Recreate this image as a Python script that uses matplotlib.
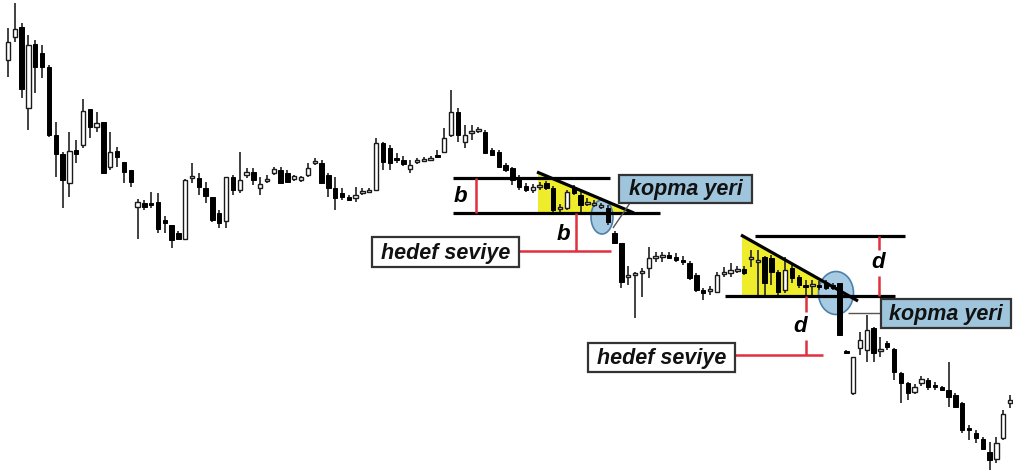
import matplotlib
matplotlib.use("Agg")
import matplotlib.pyplot as plt
import matplotlib.transforms as mtransforms
from matplotlib.patches import Rectangle, Ellipse, Polygon
import numpy as np

plt.rcParams['font.family'] = ['Liberation Sans', 'DejaVu Sans']

# fiyat seviyeleri (ekran satiri olarak, eksen ters cevrili): acilis, en yuksek, en dusuk, kapanis
opens = [60, 37, 27, 108, 44, 53, 67, 135, 154, 183, 150, 145, 109, 127, 122, 167, 151, 162, 170, 207,
         203, 203, 202, 220, 225, 233, 239, 177, 178, 188, 197, 213, 221, 177, 190, 175, 172, 188, 180, 173,
         170, 173, 179, 180, 175, 162, 163, 175, 188, 193, 197, 198, 192, 191, 190, 143, 148, 158, 160, 169,
         161, 160, 159, 155, 152, 135, 112, 142, 132, 130, 132, 150, 152, 165, 168, 178, 186, 190, 186, 183,
         188, 208, 208, 187, 195, 203, 204, 206, 208, 233, 243, 277, 275, 273, 268, 257, 256, 255, 257, 260,
         263, 275, 290, 290, 292, 273, 273, 270, 269, 258, 262, 257, 258, 272, 290, 268, 277, 285, 285, 285,
         283, 285, 283, 351, 393, 348, 350, 328, 350, 343, 349, 373, 383, 392, 383, 380, 385, 387, 390, 395,
         403, 428, 433, 439, 452, 459, 438, 403]
highs = [28, 3, 23, 35, 40, 45, 65, 122, 152, 132, 140, 99, 109, 112, 122, 132, 147, 162, 170, 199,
         200, 192, 193, 216, 225, 231, 179, 163, 173, 182, 197, 210, 177, 175, 152, 168, 168, 177, 175, 167,
         167, 170, 175, 176, 163, 158, 160, 173, 177, 188, 195, 187, 188, 188, 138, 142, 145, 153, 156, 160,
         158, 157, 156, 150, 128, 90, 108, 125, 125, 127, 130, 148, 150, 163, 167, 175, 183, 184, 182, 181,
         186, 204, 190, 185, 192, 198, 200, 203, 205, 231, 243, 266, 272, 268, 247, 252, 252, 252, 253, 256,
         261, 273, 288, 286, 272, 267, 263, 266, 266, 250, 250, 256, 255, 270, 257, 265, 275, 280, 280, 281,
         280, 283, 283, 350, 357, 332, 315, 327, 337, 341, 348, 372, 382, 384, 376, 378, 382, 386, 362, 393,
         402, 425, 430, 437, 442, 437, 410, 395]
lows = [77, 42, 98, 130, 93, 78, 137, 177, 208, 197, 163, 148, 138, 132, 174, 170, 167, 183, 187, 239,
        210, 208, 233, 233, 248, 240, 240, 183, 195, 203, 222, 228, 228, 195, 193, 178, 185, 195, 183, 175,
        183, 183, 181, 182, 177, 165, 183, 197, 210, 200, 201, 202, 195, 193, 190, 170, 170, 163, 166, 173,
        164, 162, 161, 158, 153, 137, 142, 148, 140, 133, 153, 156, 168, 172, 185, 190, 192, 193, 190, 190,
        212, 212, 210, 195, 212, 206, 207, 209, 225, 243, 288, 285, 318, 297, 278, 262, 262, 259, 262, 265,
        280, 292, 300, 295, 293, 277, 277, 273, 275, 267, 295, 295, 285, 295, 293, 283, 288, 295, 295, 290,
        290, 290, 335, 353, 395, 355, 362, 362, 357, 350, 380, 403, 400, 394, 386, 390, 390, 391, 407, 408,
        433, 440, 443, 450, 470, 463, 440, 408]
closes = [42, 29, 89, 45, 67, 67, 135, 154, 180, 151, 154, 111, 127, 123, 173, 152, 157, 172, 182, 202,
          207, 204, 229, 223, 240, 239, 180, 176, 187, 196, 220, 223, 177, 190, 180, 172, 180, 184, 179, 169,
          183, 182, 176, 177, 168, 161, 183, 188, 198, 197, 200, 195, 191, 190, 143, 162, 163, 159, 164, 165,
          160, 159, 158, 157, 138, 112, 135, 135, 131, 129, 153, 155, 167, 170, 180, 187, 190, 187, 185, 188,
          210, 207, 192, 193, 205, 202, 203, 205, 222, 243, 282, 275, 273, 271, 258, 256, 255, 258, 260, 261,
          278, 290, 293, 289, 275, 272, 270, 269, 273, 257, 260, 283, 272, 292, 270, 278, 285, 286, 284, 286,
          288, 288, 335, 352, 357, 340, 330, 353, 349, 347, 372, 383, 393, 387, 379, 387, 386, 390, 397, 407,
          430, 429, 438, 449, 460, 443, 414, 400]

W, H = 1013, 475
fig = plt.figure(figsize=(W / 100, H / 100), dpi=100)
ax = fig.add_axes([0, 0, 1, 1])
ax.set_axis_off()

n = len(opens)
idx = np.arange(n)
o = np.array(opens, float)
h = np.array(highs, float)
l = np.array(lows, float)
c = np.array(closes, float)

# ilk mum 8. piksel, son mum 1010. piksel
step = (1010 - 8) / (n - 1)
ax.set_xlim(-8 / step, -8 / step + W / step)
ax.set_ylim(H, 0)

# pikselde calisan donusum (annotasyonlar icin)
px = mtransforms.Affine2D().scale(1 / W, -1 / H).translate(0, 1) + ax.transAxes

# mumlar
ax.vlines(idx, h, l, color='#333333', linewidth=1.3, zorder=3)
bottom = np.minimum(o, c)
height = np.maximum(np.abs(c - o), 1.8)
bull = c < o
ax.bar(idx[bull], height[bull], bottom=bottom[bull], width=0.64,
       color='white', edgecolor='#1a1a1a', linewidth=1.0, zorder=4)
ax.bar(idx[~bull], height[~bull], bottom=bottom[~bull], width=0.64,
       color='black', edgecolor='black', linewidth=0.7, zorder=4)

yellow = '#efec2c'
red = '#e0303f'
blue_fill = '#a7cbe2'
blue_edge = '#4d80aa'
box_blue = '#9fc5dc'

def line(xs, ys, **kw):
    ax.plot(xs, ys, transform=px, solid_capstyle='butt', **kw)

def label(x, y, s, size=16):
    ax.text(x, y, s, transform=px, fontsize=size, fontweight='bold', fontstyle='italic',
            ha='center', va='center', color='black', zorder=8)

def box(x, y, w, hh, s, face, size=15.5):
    ax.add_patch(Rectangle((x, y), w, hh, transform=px, facecolor=face,
                           edgecolor='#333333', linewidth=1.6, zorder=7))
    ax.text(x + w / 2, y + hh / 2 + 1, s, transform=px, fontsize=size, fontweight='bold',
            fontstyle='italic', ha='center', va='center', color='#111111', zorder=8)

# --- birinci formasyon ---
ax.add_patch(Polygon([(538, 172), (632, 213), (538, 213)], closed=True, transform=px,
                     facecolor=yellow, edgecolor='none', zorder=1))
ax.add_patch(Ellipse((602, 217), 22, 34, transform=px, facecolor=blue_fill,
                     edgecolor=blue_edge, linewidth=1.2, zorder=2))
line([453, 610], [178, 178], color='black', lw=2.3, zorder=5)
line([453, 660], [213, 213], color='black', lw=2.3, zorder=5)
line([537, 634], [172, 213], color='black', lw=2.3, zorder=5)
line([476, 476], [178, 213], color=red, lw=1.8, zorder=5)
line([576, 576], [213, 251], color=red, lw=1.8, zorder=5)
line([519, 611], [251, 251], color=red, lw=1.8, zorder=5)
line([613, 630], [228, 203], color='#555555', lw=1.0, zorder=5)
label(460, 196, 'b')
label(563, 234, 'b')
box(372, 237, 147, 30, 'hedef seviye', 'white')
box(619, 175, 133, 28, 'kopma yeri', box_blue)

# --- ikinci formasyon ---
ax.add_patch(Polygon([(742, 235), (850, 296), (742, 296)], closed=True, transform=px,
                     facecolor=yellow, edgecolor='none', zorder=1))
ax.add_patch(Ellipse((836, 293), 35, 43, transform=px, facecolor=blue_fill,
                     edgecolor=blue_edge, linewidth=1.2, zorder=2))
line([755, 905], [236, 236], color='black', lw=2.3, zorder=5)
line([725, 895], [296, 296], color='black', lw=2.3, zorder=5)
line([741, 858], [235, 301], color='black', lw=2.3, zorder=5)
line([879, 879], [236, 250], color=red, lw=1.8, zorder=5)
line([879, 879], [276, 296], color=red, lw=1.8, zorder=5)
line([806, 806], [296, 312], color=red, lw=1.8, zorder=5)
line([806, 806], [340, 355], color=red, lw=1.8, zorder=5)
line([735, 823], [355, 355], color=red, lw=1.8, zorder=5)
line([848, 881], [313, 313], color='#555555', lw=1.0, zorder=5)
label(878, 263, 'd')
label(800, 326, 'd')
box(588, 343, 147, 29, 'hedef seviye', 'white')
box(881, 299, 130, 29, 'kopma yeri', box_blue)

fig.savefig('out.png', dpi=100, facecolor='white')
